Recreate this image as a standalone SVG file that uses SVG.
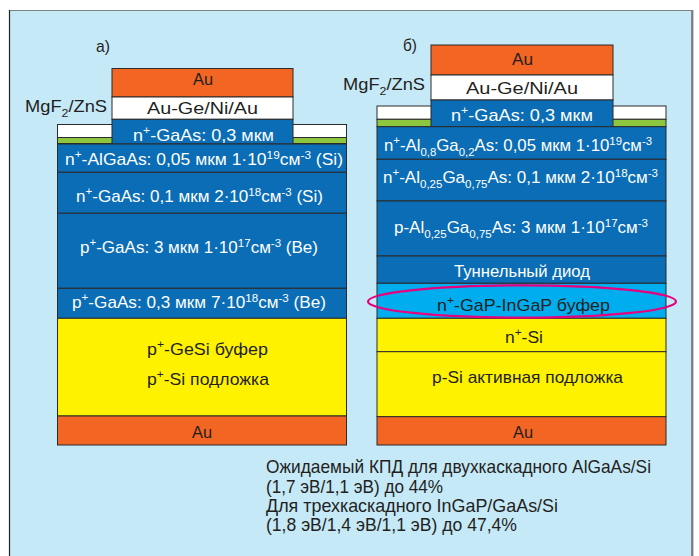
<svg xmlns="http://www.w3.org/2000/svg" width="699" height="556" viewBox="0 0 699 556">
<defs>
<style>
.t{font-family:"Liberation Sans","DejaVu Sans",sans-serif;font-size:17px;fill:#231f20}
.w{fill:#ffffff}
.sup{font-size:11.5px}
.cap{font-size:18.5px}
.lay{stroke:#2b2b2b;stroke-width:1}
.blue{fill:#0a6db5}
.or{fill:#f26522}
.yel{fill:#fff200}
.wh{fill:#ffffff}
.gr{fill:#8dc63f}
.cy{fill:#00aeef}
</style>
</defs>
<rect x="0" y="0" width="699" height="556" fill="#ffffff"/>
<rect x="9.5" y="10.5" width="682.5" height="550" fill="#c6e9f8" stroke="#808080" stroke-width="1"/>
<line x1="9.5" y1="10" x2="9.5" y2="556" stroke="#222" stroke-width="1.2"/>
<line x1="692.3" y1="10" x2="692.3" y2="556" stroke="#7d7d7d" stroke-width="2.2"/>

<!-- Left structure a) -->
<g id="left-structure">
<text class="t" x="96" y="51.5" textLength="14" lengthAdjust="spacingAndGlyphs">а)</text>
<text class="t" x="25" y="111.5" textLength="82" lengthAdjust="spacingAndGlyphs">MgF<tspan class="sup" dy="5">2</tspan><tspan dy="-5">/ZnS</tspan></text>
<g id="l-coating">
<rect class="lay wh" x="57.5" y="124.5" width="289" height="13"/>
<rect class="lay gr" x="57.5" y="137.5" width="289" height="6"/>
</g>
<g id="l-au-top"><rect class="lay or" x="112" y="68.5" width="181" height="28.5"/><text class="t" x="193" y="85" textLength="20" lengthAdjust="spacingAndGlyphs">Au</text></g>
<g id="l-augeni"><rect class="lay wh" x="112" y="97" width="181" height="22.3"/><text class="t" x="147" y="114" textLength="111" lengthAdjust="spacingAndGlyphs">Au-Ge/Ni/Au</text></g>
<g id="l-ngaas-cap"><rect class="lay blue" x="112" y="119.3" width="181" height="24.7"/><text class="t w" x="133" y="141" textLength="141" lengthAdjust="spacingAndGlyphs">n<tspan class="sup" dy="-7">+</tspan><tspan dy="7">-GaAs: 0,3 мкм</tspan></text></g>
<g id="l-nalgaas"><rect class="lay blue" x="57.5" y="144" width="289" height="28.3"/><text class="t w" x="65" y="165" textLength="278" lengthAdjust="spacingAndGlyphs">n<tspan class="sup" dy="-7">+</tspan><tspan dy="7">-AlGaAs: 0,05 мкм 1·10</tspan><tspan class="sup" dy="-6">19</tspan><tspan dy="6">см</tspan><tspan class="sup" dy="-6">-3</tspan><tspan dy="6"> (Si)</tspan></text></g>
<g id="l-ngaas"><rect class="lay blue" x="57.5" y="172.3" width="289" height="41"/><text class="t w" x="76" y="201.5" textLength="247" lengthAdjust="spacingAndGlyphs">n<tspan class="sup" dy="-7">+</tspan><tspan dy="7">-GaAs: 0,1 мкм 2·10</tspan><tspan class="sup" dy="-6">18</tspan><tspan dy="6">см</tspan><tspan class="sup" dy="-6">-3</tspan><tspan dy="6"> (Si)</tspan></text></g>
<g id="l-pgaas3"><rect class="lay blue" x="57.5" y="213.3" width="289" height="75"/><text class="t w" x="80" y="253" textLength="238" lengthAdjust="spacingAndGlyphs">p<tspan class="sup" dy="-7">+</tspan><tspan dy="7">-GaAs: 3 мкм 1·10</tspan><tspan class="sup" dy="-6">17</tspan><tspan dy="6">см</tspan><tspan class="sup" dy="-6">-3</tspan><tspan dy="6"> (Be)</tspan></text></g>
<g id="l-pgaas03"><rect class="lay blue" x="57.5" y="288.3" width="289" height="30"/><text class="t w" x="72" y="308" textLength="254" lengthAdjust="spacingAndGlyphs">p<tspan class="sup" dy="-7">+</tspan><tspan dy="7">-GaAs: 0,3 мкм 7·10</tspan><tspan class="sup" dy="-6">18</tspan><tspan dy="6">см</tspan><tspan class="sup" dy="-6">-3</tspan><tspan dy="6"> (Be)</tspan></text></g>
<g id="l-si"><rect class="lay yel" x="57.5" y="318.3" width="289" height="97.7"/>
<text class="t" x="147" y="355" textLength="121" lengthAdjust="spacingAndGlyphs">p<tspan class="sup" dy="-7">+</tspan><tspan dy="7">-GeSi буфер</tspan></text>
<text class="t" x="147" y="385" textLength="122" lengthAdjust="spacingAndGlyphs">p<tspan class="sup" dy="-7">+</tspan><tspan dy="7">-Si подложка</tspan></text></g>
<g id="l-au-bot"><rect class="lay or" x="57.5" y="416" width="289" height="29"/><text class="t" x="192" y="437.5" textLength="20" lengthAdjust="spacingAndGlyphs">Au</text></g>
</g>

<!-- Right structure б) -->
<g id="right-structure">
<text class="t" x="403" y="51" textLength="14" lengthAdjust="spacingAndGlyphs">б)</text>
<text class="t" x="343" y="90" textLength="82" lengthAdjust="spacingAndGlyphs">MgF<tspan class="sup" dy="5">2</tspan><tspan dy="-5">/ZnS</tspan></text>
<g id="r-coating">
<rect class="lay wh" x="377" y="106" width="289" height="13.3"/>
<rect class="lay gr" x="377" y="119.3" width="289" height="7.4"/>
</g>
<g id="r-au-top"><rect class="lay or" x="431" y="45" width="182" height="30"/><text class="t" x="512" y="65" textLength="21" lengthAdjust="spacingAndGlyphs">Au</text></g>
<g id="r-augeni"><rect class="lay wh" x="431" y="75" width="182" height="25"/><text class="t" x="466" y="94" textLength="112" lengthAdjust="spacingAndGlyphs">Au-Ge/Ni/Au</text></g>
<g id="r-ngaas-cap"><rect class="lay blue" x="431" y="100" width="182" height="26.7"/><text class="t w" x="451" y="120.7" textLength="142" lengthAdjust="spacingAndGlyphs">n<tspan class="sup" dy="-7">+</tspan><tspan dy="7">-GaAs: 0,3 мкм</tspan></text></g>
<g id="r-al08"><rect class="lay blue" x="377" y="126.7" width="289" height="32.6"/><text class="t w" x="384" y="150.5" textLength="268" lengthAdjust="spacingAndGlyphs">n<tspan class="sup" dy="-7">+</tspan><tspan dy="7">-Al</tspan><tspan class="sup" dy="5">0,8</tspan><tspan dy="-5">Ga</tspan><tspan class="sup" dy="5">0,2</tspan><tspan dy="-5">As: 0,05 мкм 1·10</tspan><tspan class="sup" dy="-6">19</tspan><tspan dy="6">см</tspan><tspan class="sup" dy="-6">-3</tspan></text></g>
<g id="r-al025a"><rect class="lay blue" x="377" y="159.3" width="289" height="41.7"/><text class="t w" x="383" y="183.3" textLength="275" lengthAdjust="spacingAndGlyphs">n<tspan class="sup" dy="-7">+</tspan><tspan dy="7">-Al</tspan><tspan class="sup" dy="5">0,25</tspan><tspan dy="-5">Ga</tspan><tspan class="sup" dy="5">0,75</tspan><tspan dy="-5">As: 0,1 мкм 2·10</tspan><tspan class="sup" dy="-6">18</tspan><tspan dy="6">см</tspan><tspan class="sup" dy="-6">-3</tspan></text></g>
<g id="r-al025b"><rect class="lay blue" x="377" y="201" width="289" height="55"/><text class="t w" x="394" y="233" textLength="254" lengthAdjust="spacingAndGlyphs">p-Al<tspan class="sup" dy="5">0,25</tspan><tspan dy="-5">Ga</tspan><tspan class="sup" dy="5">0,75</tspan><tspan dy="-5">As: 3 мкм 1·10</tspan><tspan class="sup" dy="-6">17</tspan><tspan dy="6">см</tspan><tspan class="sup" dy="-6">-3</tspan></text></g>
<g id="r-tunnel"><rect class="lay blue" x="377" y="256" width="289" height="27.3"/><text class="t w" x="454" y="276.5" textLength="136" lengthAdjust="spacingAndGlyphs">Туннельный диод</text></g>
<g id="r-buffer"><rect class="lay cy" x="377" y="283.3" width="289" height="35"/><text class="t" x="437" y="310.5" textLength="173" lengthAdjust="spacingAndGlyphs">n<tspan class="sup" dy="-7">+</tspan><tspan dy="7">-GaP-InGaP буфер</tspan></text></g>
<g id="r-nsi"><rect class="lay yel" x="377" y="318.3" width="289" height="33.4"/><text class="t" x="505" y="343.3" textLength="38" lengthAdjust="spacingAndGlyphs">n<tspan class="sup" dy="-7">+</tspan><tspan dy="7">-Si</tspan></text></g>
<g id="r-psi"><rect class="lay yel" x="377" y="351.7" width="289" height="65"/><text class="t" x="432" y="383.3" textLength="191" lengthAdjust="spacingAndGlyphs">p-Si активная подложка</text></g>
<g id="r-au-bot"><rect class="lay or" x="377" y="416.7" width="289" height="28.3"/><text class="t" x="513" y="437.5" textLength="20" lengthAdjust="spacingAndGlyphs">Au</text></g>
<ellipse id="highlight" cx="522" cy="301.5" rx="154" ry="16.2" fill="none" stroke="#e6007e" stroke-width="2.2"/>
</g>

<g id="caption">
<text class="t cap" x="266" y="472.7" textLength="385" lengthAdjust="spacingAndGlyphs">Ожидаемый КПД для двухкаскадного AlGaAs/Si</text>
<text class="t cap" x="266" y="492.5" textLength="177" lengthAdjust="spacingAndGlyphs">(1,7 эВ/1,1 эВ) до 44%</text>
<text class="t cap" x="266" y="511.7" textLength="292" lengthAdjust="spacingAndGlyphs">Для трехкаскадного InGaP/GaAs/Si</text>
<text class="t cap" x="266" y="530.7" textLength="251" lengthAdjust="spacingAndGlyphs">(1,8 эВ/1,4 эВ/1,1 эВ) до 47,4%</text>
</g>
</svg>
